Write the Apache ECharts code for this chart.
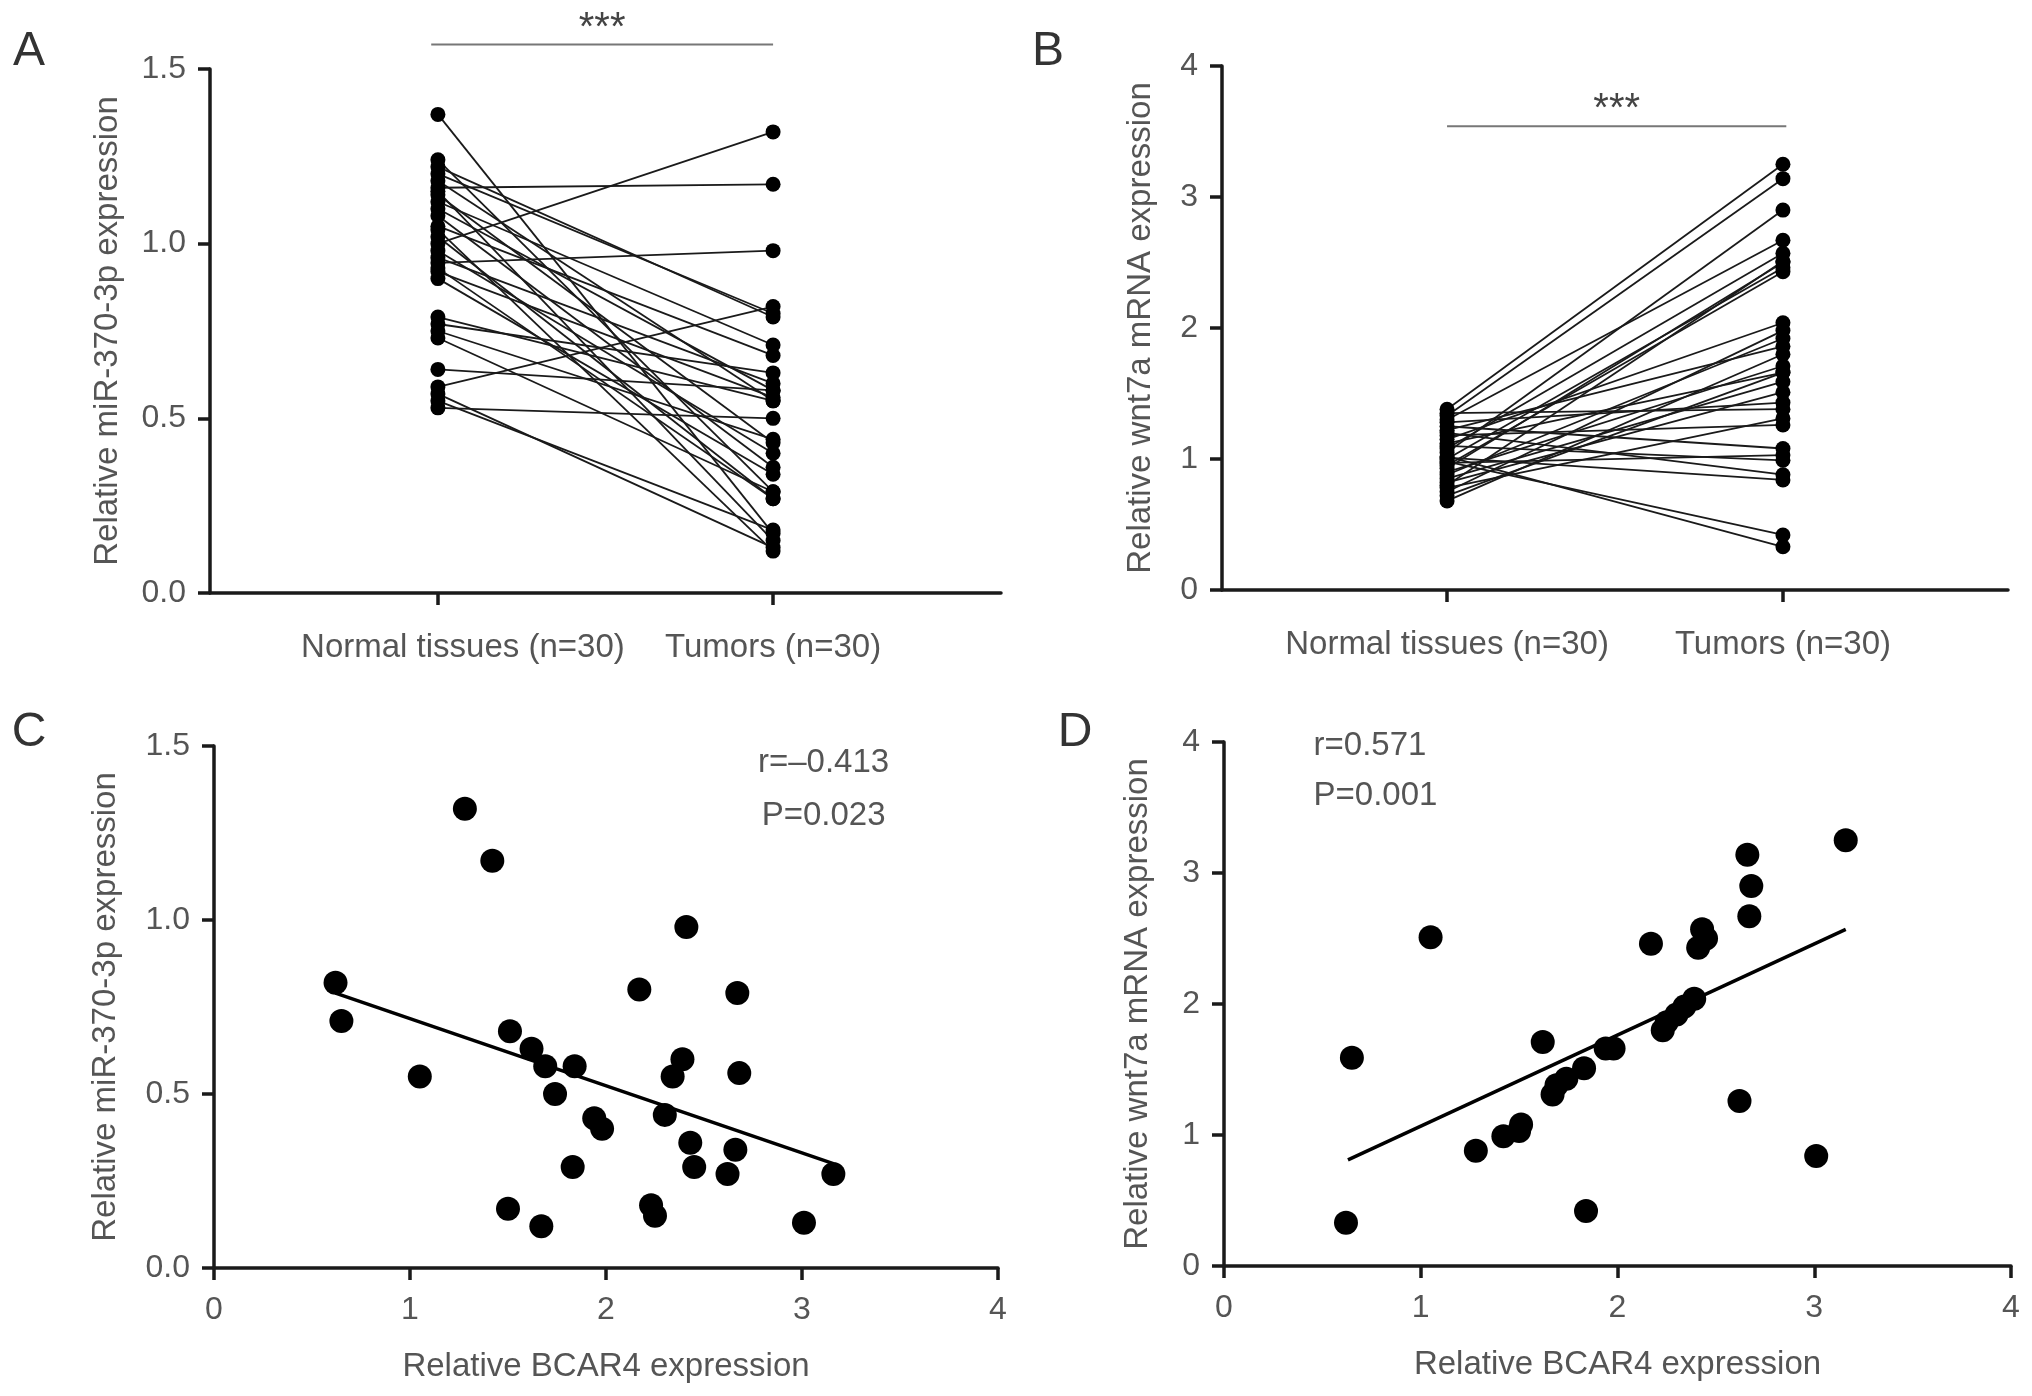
<!DOCTYPE html>
<html>
<head>
<meta charset="utf-8">
<title>BCAR4, miR-370-3p and wnt7a expression</title>
<script src="https://cdn.jsdelivr.net/npm/echarts@6.0.0/dist/echarts.min.js"></script>
<style>
  html, body { margin: 0; padding: 0; background: #fff; }
  #chart { width: 2032px; height: 1396px; }
</style>
</head>
<body>
<div id="chart"></div>
<script>
// groups on the paired plots
var groups = ['Normal tissues (n=30)', 'Tumors (n=30)'];

// one entry per patient (same order in every array)
var bcar4 = [1.28, 1.42, 2.41, 0.62, 2.17, 2.67, 0.65, 1.51, 1.62, 1.69,
             1.84, 2.39, 1.05, 2.34, 2.68, 1.74, 1.94, 1.98, 2.30, 2.43,
             2.66, 1.83, 2.45, 2.62, 3.16, 1.50, 2.23, 2.25, 1.67, 3.01];
var normalMiR = [1.00, 1.16, 0.945, 0.59, 1.20, 1.22, 1.12, 1.05, 0.77, 1.10,
                 0.64, 0.96, 0.79, 1.18, 0.92, 0.53, 1.14, 0.98, 0.75, 1.08,
                 0.90, 0.73, 1.24, 1.02, 0.93, 1.37, 0.55, 1.15, 1.04, 0.57];
var tumorMiR = [1.32, 1.17, 0.98, 0.82, 0.80, 0.79, 0.71, 0.68, 0.63, 0.58,
                0.58, 0.60, 0.55, 0.55, 0.56, 0.50, 0.43, 0.40, 0.44, 0.36,
                0.34, 0.29, 0.29, 0.27, 0.27, 0.17, 0.18, 0.15, 0.12, 0.13];
var normalWnt = [1.20, 1.10, 0.95, 1.02, 1.00, 1.30, 0.85, 1.25, 0.90, 1.35,
                 0.98, 1.15, 0.80, 0.75, 1.05, 1.28, 0.72, 1.12, 0.88, 1.08,
                 1.33, 0.82, 0.93, 1.18, 1.38, 0.97, 0.68, 1.22, 0.78, 1.01];
var tumorWnt = [0.88, 0.99, 2.43, 0.33, 2.46, 2.67, 1.59, 1.08, 1.71, 1.38,
                0.42, 2.04, 2.51, 1.98, 2.90, 1.43, 1.66, 1.66, 1.92, 2.57,
                3.14, 1.51, 2.50, 1.26, 3.25, 1.03, 1.80, 1.86, 1.31, 0.84];

// fitted lines as drawn (end points)
var fitMiR = [[0.62, 0.79], [3.16, 0.30]];
var fitWnt = [[0.63, 0.81], [3.16, 2.57]];

// significance bars and correlation text
var sigBars = [{grid: 0, from: 0.98, to: 2.0, y: 1.57, text: '***'},
               {grid: 1, from: 1.0, to: 2.01, y: 3.54, text: '***'}];
var statsC = ['r=\u20130.413', 'P=0.023'];
var statsD = ['r=0.571', 'P=0.001'];

var FONT = '"Liberation Sans", Arial, sans-serif';
var TXT = '#555';
var AXIS = {color: '#1a1a1a', width: 3.5};

function yAxis(grid, max, interval, digits, name, gap) {
    return {
        gridIndex: grid, type: 'value', min: 0, max: max, interval: interval,
        axisLine: {show: true, onZero: false, lineStyle: AXIS},
        axisTick: {show: true, length: 12, lineStyle: AXIS},
        axisLabel: {margin: 24, color: TXT, fontSize: 32, fontFamily: FONT,
            formatter: function (v) { return v.toFixed(digits); }},
        splitLine: {show: false},
        name: name, nameLocation: 'middle', nameGap: gap,
        nameTextStyle: {color: TXT, fontSize: 33, fontFamily: FONT}
    };
}

function groupAxis(grid, min, max, shiftFirst) {
    return {
        gridIndex: grid, type: 'value', min: min, max: max,
        axisLine: {show: true, onZero: false, lineStyle: AXIS},
        axisTick: {show: true, customValues: [1, 2], length: 12, lineStyle: AXIS},
        axisLabel: {customValues: [1, 2], margin: 38, color: TXT, fontSize: 33, fontFamily: FONT,
            formatter: function (v) {
                var i = Math.round(v) - 1;
                return (i === 0 && shiftFirst) ? '{n|' + groups[0] + '}' : groups[i];
            },
            rich: {n: {padding: [0, 0, 0, shiftFirst || 0], color: TXT, fontSize: 33, fontFamily: FONT}}},
        splitLine: {show: false}
    };
}

function bcarAxis(grid) {
    return {
        gridIndex: grid, type: 'value', min: 0, max: 4, interval: 1,
        axisLine: {show: true, onZero: false, lineStyle: AXIS},
        axisTick: {show: true, length: 12, lineStyle: AXIS},
        axisLabel: {margin: 26, color: TXT, fontSize: 32, fontFamily: FONT},
        splitLine: {show: false},
        name: 'Relative BCAR4 expression', nameLocation: 'middle', nameGap: 82,
        nameTextStyle: {color: TXT, fontSize: 33, fontFamily: FONT}
    };
}

function pairedSeries(grid, normal, tumor) {
    var out = [];
    var pts = [];
    for (var i = 0; i < normal.length; i++) {
        out.push({
            type: 'line', xAxisIndex: grid, yAxisIndex: grid, silent: true,
            symbol: 'none', lineStyle: {color: '#1a1a1a', width: 1.8},
            data: [[1, normal[i]], [2, tumor[i]]]
        });
        pts.push([1, normal[i]], [2, tumor[i]]);
    }
    out.push({
        type: 'scatter', xAxisIndex: grid, yAxisIndex: grid, z: 5,
        symbolSize: 15, itemStyle: {color: '#000', opacity: 1}, data: pts
    });
    return out;
}

function corrSeries(grid, ys, fit) {
    var pts = [];
    for (var i = 0; i < bcar4.length; i++) pts.push([bcar4[i], ys[i]]);
    return [
        {type: 'scatter', xAxisIndex: grid, yAxisIndex: grid, z: 5,
         symbolSize: 24, itemStyle: {color: '#000', opacity: 1}, data: pts},
        {type: 'line', xAxisIndex: grid, yAxisIndex: grid, symbol: 'none',
         lineStyle: {color: '#000', width: 3.5}, data: fit}
    ];
}

var series = []
    .concat(pairedSeries(0, normalMiR, tumorMiR))
    .concat(pairedSeries(1, normalWnt, tumorWnt))
    .concat(corrSeries(2, tumorMiR, fitMiR))
    .concat(corrSeries(3, tumorWnt, fitWnt));

sigBars.forEach(function (s) {
    series.push({
        type: 'line', xAxisIndex: s.grid, yAxisIndex: s.grid, clip: false, silent: true,
        symbol: 'none', lineStyle: {color: '#777', width: 2},
        data: [[s.from, s.y], [s.to, s.y]]
    });
});

var option = {
    animation: false,
    backgroundColor: '#fff',
    grid: [
        {left: 210, top: 69, width: 791, height: 524},
        {left: 1222, top: 66, width: 786, height: 524},
        {left: 214, top: 746, width: 784, height: 522},
        {left: 1224, top: 742, width: 787, height: 524}
    ],
    xAxis: [groupAxis(0, 0.32, 2.68, 50), groupAxis(1, 0.33, 2.67, 0), bcarAxis(2), bcarAxis(3)],
    yAxis: [
        yAxis(0, 1.5, 0.5, 1, 'Relative miR-370-3p expression', 86),
        yAxis(1, 4, 1, 0, 'Relative wnt7a mRNA expression', 65),
        yAxis(2, 1.5, 0.5, 1, 'Relative miR-370-3p expression', 92),
        yAxis(3, 4, 1, 0, 'Relative wnt7a mRNA expression', 70)
    ],
    series: series
};

var chart = echarts.init(document.getElementById('chart'));
chart.setOption(option);

// panel letters, significance stars, correlation text
function txt(x, y, text, size, align, color) {
    return {type: 'text', x: x, y: y, silent: true,
        style: {text: text, fill: color || TXT, fontSize: size, fontFamily: FONT,
                textAlign: align || 'center', textVerticalAlign: 'middle'}};
}
var graphics = [
    txt(29, 52, 'A', 48, 'center', '#333'),
    txt(1048, 52, 'B', 48, 'center', '#333'),
    txt(29, 733, 'C', 48, 'center', '#333'),
    txt(1075, 733, 'D', 48, 'center', '#333')
];
sigBars.forEach(function (s) {
    var p = chart.convertToPixel({gridIndex: s.grid}, [(s.from + s.to) / 2, s.y]);
    graphics.push(txt(p[0], p[1] - 16, s.text, 40, 'center', '#444'));
});
statsC.forEach(function (t, i) {
    var p = chart.convertToPixel({gridIndex: 2}, [3.11, [1.45, 1.30][i]]);
    graphics.push(txt(p[0], p[1], t, 33, 'center'));
});
statsD.forEach(function (t, i) {
    var p = chart.convertToPixel({gridIndex: 3}, [0.455, [3.97, 3.59][i]]);
    graphics.push(txt(p[0], p[1], t, 33, 'left'));
});
chart.setOption({graphic: graphics});
</script>
</body>
</html>
